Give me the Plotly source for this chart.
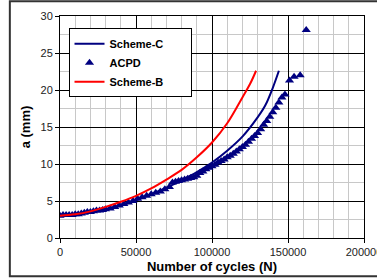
import plotly.graph_objects as go

# Scheme-C (blue line)
schemeC_N = [0, 20000, 40000, 50000, 60000, 70000, 80000, 90000, 100000, 110000, 120000, 130000, 135000, 140000, 144000]
schemeC_a = [3.0, 3.5, 4.4, 5.1, 5.9, 6.8, 7.8, 8.9, 10.2, 11.8, 13.7, 16.3, 17.9, 20.3, 22.6]

# Scheme-B (red line)
schemeB_N = [0, 10000, 20000, 30000, 40000, 50000, 60000, 70000, 80000, 90000, 100000, 110000, 120000, 125000, 129000]
schemeB_a = [3.0, 3.2, 3.6, 4.2, 4.9, 5.7, 6.7, 7.9, 9.2, 10.9, 12.9, 15.5, 19.0, 20.8, 22.6]

# ACPD measurements (triangles)
acpd_N = [0, 2000, 4000, 6000, 8000, 10000, 12000, 14000, 16000, 18000, 20000, 22000, 24000, 26000, 28000,
          30000, 33000, 36000, 39000, 42000, 45000, 48000, 51000, 54000, 57000, 60000, 63000, 66000, 69000,
          72000, 74000, 76000, 78000, 80000, 82000, 84000, 86000, 88000, 90000, 92000, 94000, 96000, 98000,
          100000, 102000, 104000, 106000, 108000, 110000, 112000, 114000, 116000, 118000, 120000, 122000,
          124000, 126000, 128000, 130000, 132000, 134000, 136000, 138000, 140000, 142000, 144000, 146000,
          148000, 151000, 154000, 158000, 162000]
acpd_a = [3.0, 3.1, 3.1, 3.1, 3.1, 3.2, 3.2, 3.3, 3.4, 3.5, 3.5, 3.6, 3.7, 3.7, 3.8,
          3.9, 4.0, 4.2, 4.4, 4.6, 4.8, 5.0, 5.3, 5.5, 5.7, 5.9, 6.1, 6.3, 6.6,
          6.9, 7.5, 7.6, 7.7, 7.8, 7.9, 8.0, 8.1, 8.2, 8.4, 8.8, 9.0, 9.3, 9.5,
          9.7, 9.9, 10.2, 10.4, 10.6, 10.9, 11.1, 11.4, 11.7, 12.0, 12.3, 12.6,
          13.0, 13.4, 13.8, 14.2, 14.7, 15.3, 15.8, 16.4, 17.0, 17.6, 18.3, 19.0,
          19.4, 21.3, 21.8, 22.0, 28.1]

x_ticks = [0, 50000, 100000, 150000, 200000]
y_ticks = [0, 5, 10, 15, 20, 25, 30]

FONT = "Liberation Sans, Arial, sans-serif"
PAD = "\u00a0" * 7  # widens the legend box like the reference

fig = go.Figure()
fig.add_trace(go.Scatter(x=schemeC_N, y=schemeC_a, mode="lines", name="Scheme-C" + PAD,
                         line=dict(color="#000080", width=2, shape="spline")))
fig.add_trace(go.Scatter(x=acpd_N, y=acpd_a, mode="markers", name="ACPD",
                         marker=dict(symbol="triangle-up", color="#000080", size=8)))
fig.add_trace(go.Scatter(x=schemeB_N, y=schemeB_a, mode="lines", name="Scheme-B",
                         line=dict(color="#ff0000", width=2, shape="spline")))

fig.update_layout(
    width=377, height=279,
    margin=dict(l=60, r=13, t=16, b=41, autoexpand=False),
    paper_bgcolor="white", plot_bgcolor="white",
    font=dict(family=FONT, size=11, color="#222222"),
    showlegend=True,
    legend=dict(x=0.028, y=0.945, xanchor="left", yanchor="top",
                bgcolor="white", bordercolor="black", borderwidth=1,
                font=dict(family=FONT, size=11, color="black", weight="bold"),
                tracegroupgap=0, itemwidth=30),
    xaxis=dict(range=[0, 200000], tickvals=x_ticks, ticktext=[str(v) for v in x_ticks],
               automargin=False, ticklabeloverflow="allow",
               showgrid=True, gridcolor="black", gridwidth=1,
               minor=dict(dtick=10000, showgrid=True, gridcolor="#c8c8c8", gridwidth=1),
               showline=True, linecolor="black", linewidth=1, mirror=True,
               ticks="outside", ticklen=4, tickcolor="black", zeroline=False,
               title=dict(text="<b>Number of cycles (N)</b>", standoff=4,
                          font=dict(family=FONT, size=13, color="black"))),
    yaxis=dict(range=[0, 30], tickvals=y_ticks, automargin=False,
               showgrid=True, gridcolor="black", gridwidth=1,
               minor=dict(dtick=2.5, showgrid=True, gridcolor="#c8c8c8", gridwidth=1),
               showline=True, linecolor="black", linewidth=1, mirror=True,
               ticks="outside", ticklen=4, tickcolor="black", zeroline=False,
               title=dict(text="<b>a (mm)</b>", standoff=6,
                          font=dict(family=FONT, size=13, color="black"))),
    shapes=[dict(type="rect", xref="paper", yref="paper",
                 x0=-0.165, x1=1.06, y0=-0.172, y1=1.066,
                 line=dict(color="#333333", width=2), fillcolor="rgba(0,0,0,0)", layer="above")],
)

fig.write_html("out.html", config={"displayModeBar": False},
               post_script="document.body.style.margin='0';document.body.style.overflow='hidden';")
